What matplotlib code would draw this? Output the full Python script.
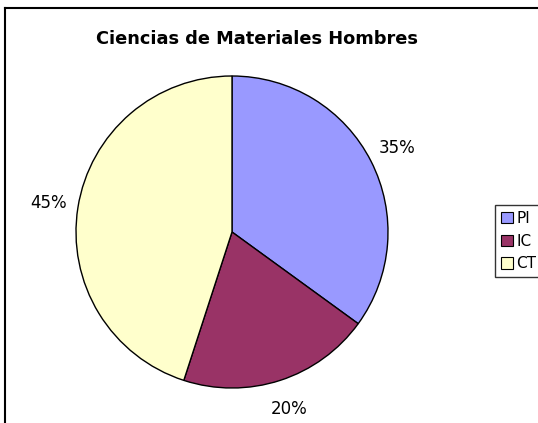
import matplotlib.pyplot as plt
from matplotlib.lines import Line2D

plt.rcParams['font.family'] = ['DejaVu Sans']

# datos del grafico
categorias = ["PI", "IC", "CT"]
porcentajes = [35, 20, 45]
colores = ["#9999FF", "#993366", "#FFFFCC"]
titulo = "Ciencias de Materiales Hombres"

fig = plt.figure(figsize=(5.38, 4.23), dpi=100)
fig.patch.set_facecolor("white")

# ejes del pastel (centro ~ (232,232) px, radio ~156 px)
ax = fig.add_axes([76 / 538, (423 - 388) / 423, 312 / 538, 312 / 423])
wedges, textos, pct = ax.pie(
    porcentajes,
    colors=colores,
    startangle=90,
    counterclock=False,
    radius=1,
    autopct="%d%%",
    pctdistance=1.19,
    wedgeprops={"edgecolor": "black", "linewidth": 1.0},
    textprops={"fontsize": 12, "color": "black"},
)
ax.set_xlim(-1, 1)
ax.set_ylim(-1, 1)
ax.set_aspect("equal")
ax.axis("off")

fig.text(257 / 538, 1 - 39 / 423, titulo, ha="center", va="center",
         fontsize=12.75, fontweight="bold")

# leyenda
leg = fig.legend(wedges, categorias, loc="upper left",
                 bbox_to_anchor=(495 / 538, 1 - 205 / 423),
                 fontsize=11, frameon=True, fancybox=False,
                 handlelength=0.75, handleheight=0.75, handletextpad=0.25,
                 borderpad=0.4, labelspacing=0.5, borderaxespad=0)
leg.get_frame().set_edgecolor("black")
leg.get_frame().set_linewidth(1.0)
for h in leg.legend_handles:
    h.set_linewidth(0.8)

# borde del area del grafico (izquierda y arriba)
fig.add_artist(Line2D([5 / 538, 5 / 538], [0, 1 - 8 / 423], color="black", linewidth=1.5))
fig.add_artist(Line2D([5 / 538, 1], [1 - 8 / 423, 1 - 8 / 423], color="black", linewidth=1.5))

fig.savefig("out.png", dpi=100)
